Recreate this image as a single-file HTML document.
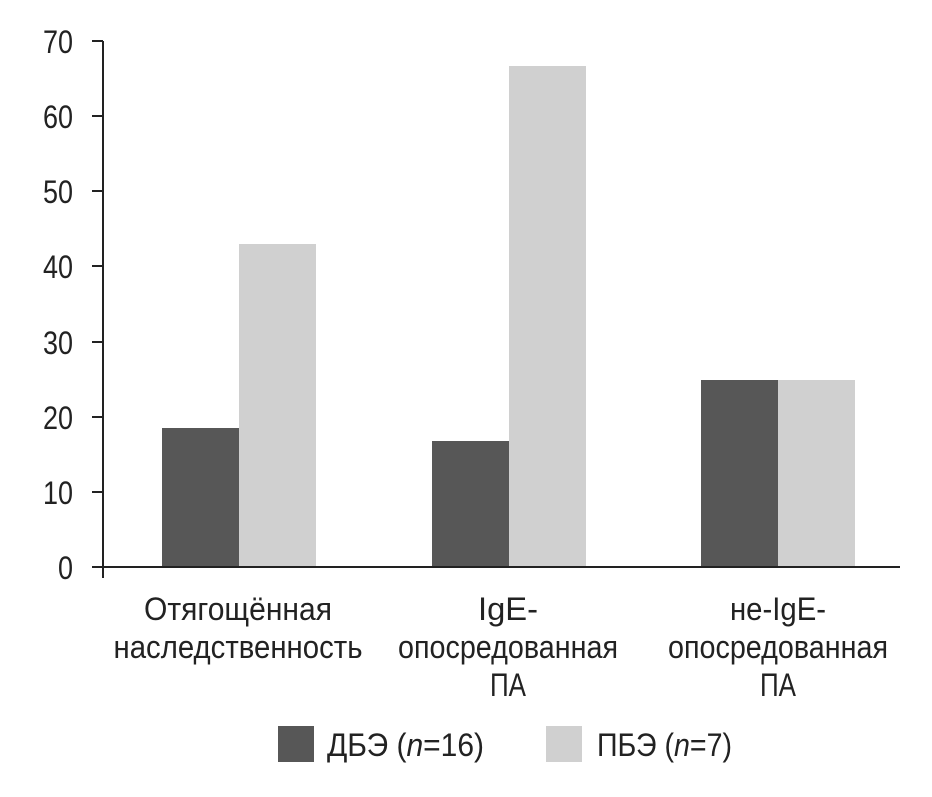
<!DOCTYPE html>
<html><head><meta charset="utf-8"><style>
body{margin:0;background:#fff}
text{font-family:"Liberation Sans Narrow","Liberation Sans",sans-serif;fill:#222;font-size:32px}
</style></head><body>
<svg width="932" height="792" viewBox="0 0 932 792" xmlns="http://www.w3.org/2000/svg">
<g fill="#575757">
<rect x="162" y="428" width="77" height="139"/>
<rect x="432" y="441" width="77" height="126"/>
<rect x="701" y="380" width="77" height="187"/>
</g>
<g fill="#d0d0d0">
<rect x="239" y="244" width="77" height="323"/>
<rect x="509" y="66" width="77" height="501"/>
<rect x="778" y="380" width="77" height="187"/>
</g>
<g stroke="#222" stroke-width="2" fill="none">
<line x1="103" y1="41" x2="103" y2="578"/>
<line x1="92" y1="567" x2="900" y2="567"/>
<line x1="92" y1="41" x2="103" y2="41"/>
<line x1="92" y1="116" x2="103" y2="116"/>
<line x1="92" y1="191" x2="103" y2="191"/>
<line x1="92" y1="266" x2="103" y2="266"/>
<line x1="92" y1="342" x2="103" y2="342"/>
<line x1="92" y1="417" x2="103" y2="417"/>
<line x1="92" y1="492" x2="103" y2="492"/>
</g>
<g text-anchor="end">
<text x="73" y="53" textLength="30" lengthAdjust="spacingAndGlyphs">70</text>
<text x="73" y="128" textLength="30" lengthAdjust="spacingAndGlyphs">60</text>
<text x="73" y="203" textLength="30" lengthAdjust="spacingAndGlyphs">50</text>
<text x="73" y="278" textLength="30" lengthAdjust="spacingAndGlyphs">40</text>
<text x="73" y="354" textLength="30" lengthAdjust="spacingAndGlyphs">30</text>
<text x="73" y="429" textLength="30" lengthAdjust="spacingAndGlyphs">20</text>
<text x="73" y="504" textLength="30" lengthAdjust="spacingAndGlyphs">10</text>
<text x="73" y="579" textLength="15" lengthAdjust="spacingAndGlyphs">0</text>
</g>
<g text-anchor="middle">
<text x="238" y="620" textLength="188" lengthAdjust="spacingAndGlyphs">Отягощённая</text>
<text x="238" y="658" textLength="249" lengthAdjust="spacingAndGlyphs">наследственность</text>
<text x="508" y="620" textLength="60" lengthAdjust="spacingAndGlyphs">IgE-</text>
<text x="508" y="658" textLength="220" lengthAdjust="spacingAndGlyphs">опосредованная</text>
<text x="508" y="696" textLength="36" lengthAdjust="spacingAndGlyphs">ПА</text>
<text x="778" y="620" textLength="96" lengthAdjust="spacingAndGlyphs">не-IgE-</text>
<text x="778" y="658" textLength="220" lengthAdjust="spacingAndGlyphs">опосредованная</text>
<text x="778" y="696" textLength="36" lengthAdjust="spacingAndGlyphs">ПА</text>
</g>
<rect x="278" y="726" width="36" height="36" fill="#575757"/>
<text x="327" y="756" textLength="157" lengthAdjust="spacingAndGlyphs">ДБЭ (<tspan font-style="italic">n</tspan>=16)</text>
<rect x="546" y="726" width="36" height="36" fill="#d0d0d0"/>
<text x="597" y="756" textLength="135" lengthAdjust="spacingAndGlyphs">ПБЭ (<tspan font-style="italic">n</tspan>=7)</text>
</svg>
</body></html>
